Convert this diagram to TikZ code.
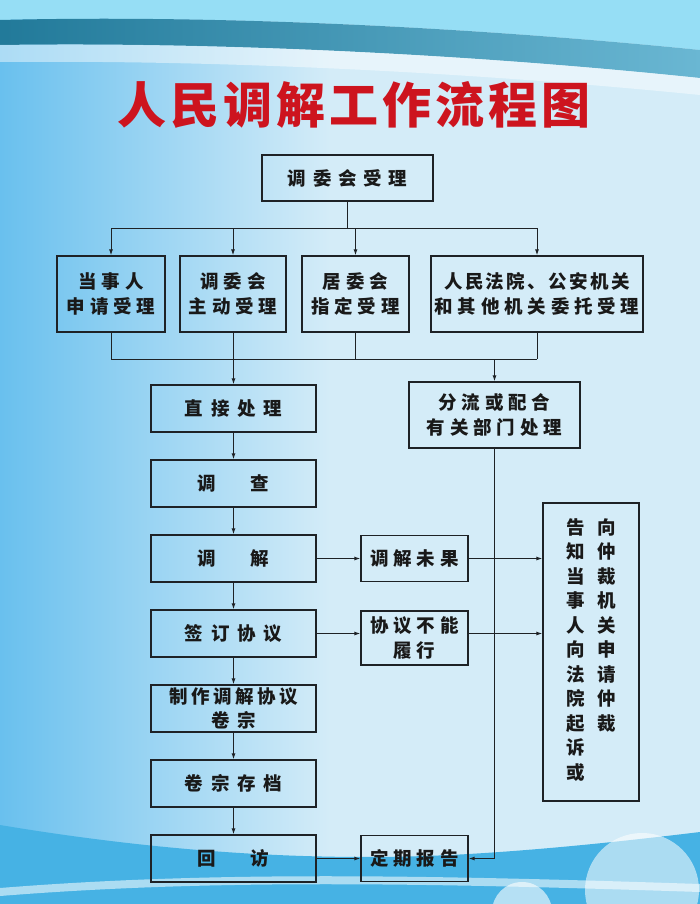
\documentclass[tikz,border=0pt]{standalone}
\usepackage{fontspec}
\usepackage{pdfrender}
\usetikzlibrary{positioning,arrows.meta}
\newfontfamily\cjkfont[LetterSpace=26]{Noto Sans CJK SC}
\newfontfamily\titlefont[LetterSpace=8]{Noto Sans CJK SC}
\definecolor{bgtop}{RGB}{150,222,245}
\definecolor{bgband}{RGB}{42,152,192}
\definecolor{bgleft}{RGB}{105,192,238}
\definecolor{bgmid}{RGB}{212,236,248}
\definecolor{bgwave}{RGB}{70,178,228}
\definecolor{linecol}{RGB}{30,34,38}
\definecolor{textcol}{RGB}{25,25,25}
\definecolor{titlered}{RGB}{205,20,30}
\tikzset{>={Latex[width=4pt,length=6pt]}}
\tikzset{box/.style={draw=linecol, line width=1.3pt, minimum width=107, minimum height=46,
		inner sep=0pt, align=center, text=textcol, font=\cjkfont\bfseries\fontsize{18.5}{24.5}\selectfont}}
\tikzset{stepbox/.style={box, minimum width=165, minimum height=47,
		font=\cjkfont\bfseries\fontsize{18.5}{24.5}\selectfont\addfontfeature{LetterSpace=43}}}
\tikzset{link/.style={draw=linecol, line width=1pt}}
\tikzset{headline/.style={font=\titlefont\bfseries\fontsize{49}{52}\selectfont}}

\begin{document}
\begin{tikzpicture}[x=1pt,y=-1pt]
		\useasboundingbox (0,0) rectangle (700,904);
		% background
		\begin{scope}
			\clip (0,0) rectangle (700,904);
			\fill[bgmid] (0,0) rectangle (700,904);
			\shade[left color=bgleft, right color=bgmid] (0,0) rectangle (330,904);
			\fill[bgtop] (0,0) -- (700,0) -- (700,50) .. controls (450,25) and (200,15) .. (0,20) -- cycle;
			\shade[left color=bgband!80!black, right color=bgband!70!white] (0,20) .. controls (200,15) and (450,25) .. (700,50) -- (700,78) .. controls (450,52) and (200,42) .. (0,45) -- cycle;
			\fill[white, opacity=0.45] (0,45) .. controls (200,42) and (450,52) .. (700,78) -- (700,95) .. controls (450,70) and (200,60) .. (0,62) -- cycle;
			\fill[bgwave] (0,825) .. controls (150,850) and (300,862) .. (450,855) .. controls (550,850) and (650,838) .. (700,832) -- (700,904) -- (0,904) -- cycle;
			\fill[white, opacity=0.55] (0,888) .. controls (200,872) and (400,874) .. (700,884) -- (700,892) .. controls (400,882) and (200,880) .. (0,896) -- cycle;
			\fill[white, opacity=0.55] (642,890) circle (57);
			\fill[white, opacity=0.6] (522,912) circle (30);
		\end{scope}
		%		\draw[very thin,color=gray] (0,0) grid[step=50] (700,904);
		
		\node[headline, text=titlered] (title) at (354,105)
		{\textpdfrender{TextRenderingMode=FillStroke, LineWidth=1.8pt, StrokeColor=white}{人民调解工作流程图}};
		
		\node[box, minimum width=171] (accept) at (347.5,178) {\addfontfeature{LetterSpace=36}调委会受理};
		\node[box, minimum width=108, minimum height=76] (party) at (111,294) {当事人\\申请受理};
		\node[box, minimum width=106, minimum height=76] (committee) at (233,294) {调委会\\主动受理};
		\node[box, minimum width=107, minimum height=76] (resident) at (355.5,294) {居委会\\指定受理};
		\node[box, minimum width=212, minimum height=76] (court) at (537,294) {\addfontfeature{LetterSpace=13}人民法院、公安机关\\和其他机关委托受理};
		
		\node[stepbox] (direct) at (233.5,408.5) {直接处理};
		\node[stepbox] (survey) at (233.5,483.5) {调　查};
		\node[stepbox] (mediate) at (233.5,558.5) {调　解};
		\node[stepbox] (sign) at (233.5,633.5) {签订协议};
		\node[stepbox] (dossier) at (233.5,708.5) {\addfontfeature{LetterSpace=19}制作调解协议\\卷宗};
		\node[stepbox] (archive) at (233.5,783.5) {卷宗存档};
		\node[stepbox] (revisit) at (233.5,858.5) {回　访};
		
		\node[box, minimum width=171, minimum height=66] (divert) at (494.5,415) {分流或配合\\有关部门处理};
		\node[box] (fail) at (414.5,558.5) {调解未果};
		\node[box, minimum height=54] (breach) at (414.5,638) {协议不能\\履行};
		\node[box] (report) at (414.5,858.5) {定期报告};
		\node[box, minimum width=96, minimum height=298] (lawsuit) at (591,652) {%
			\begin{tabular}{@{}c@{\hspace{13pt}}c@{}}
				告&向\\ 知&仲\\ 当&裁\\ 事&机\\ 人&关\\ 向&申\\ 法&请\\ 院&仲\\ 起&裁\\ 诉&\\ 或&
		\end{tabular}};
		
		\coordinate (split) at (347.5,228);
		\coordinate (join) at (347.5,359);
		\draw[link] (accept) -- (split);
		\draw[link] (party |- split) -- (court |- split);
		\foreach \n in {party,committee,resident,court}
		\draw[link,->] (\n |- split) -- (\n);
		\foreach \n in {party,committee,resident,court}
		\draw[link] (\n) -- (\n |- join);
		\draw[link] (party |- join) -- (court |- join);
		\draw[link,->] (direct |- join) -- (direct);
		\draw[link,->] (divert |- join) -- (divert);
		
		\foreach \a/\b in {direct/survey,survey/mediate,mediate/sign,sign/dossier,dossier/archive,archive/revisit}
		\draw[link,->] (\a) -- (\b);
		\draw[link,->] (mediate) -- (fail);
		\draw[link,->] (fail) -- (fail -| lawsuit.west);
		\draw[link,->] (sign) -- (sign -| breach.west);
		\draw[link,->] (sign -| breach.east) -- (sign -| lawsuit.west);
		\draw[link,->] (revisit) -- (report);
		\draw[link,->] (divert) |- (report);
	\end{tikzpicture}
\end{document}
